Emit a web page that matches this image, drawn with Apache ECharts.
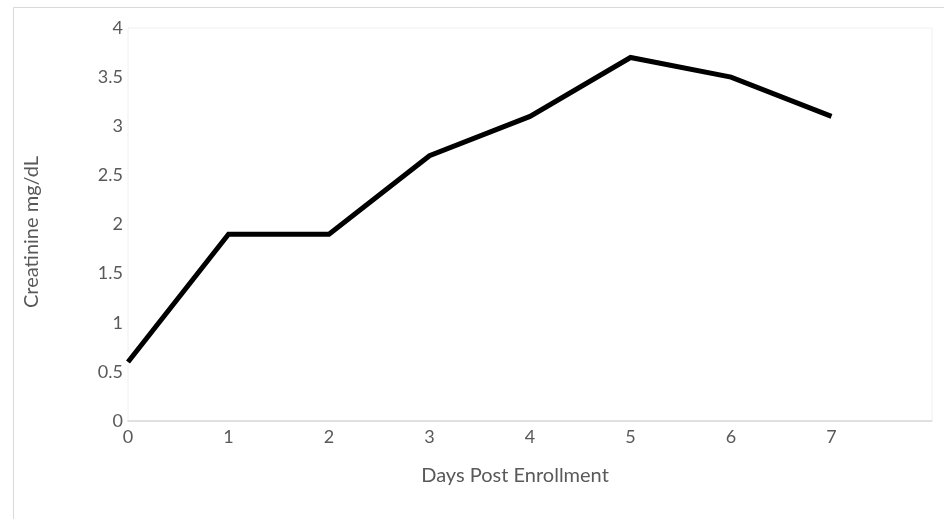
<!DOCTYPE html>
<html><head><meta charset="utf-8">
<script src="https://cdn.jsdelivr.net/npm/echarts@6/dist/echarts.min.js"></script>
<style>html,body{margin:0;padding:0;background:#fff}#c{width:944px;height:519px}</style>
</head><body><div id="c"></div>
<script>
const days = [0, 1, 2, 3, 4, 5, 6, 7];
const creatinine = [0.6, 1.9, 1.9, 2.7, 3.1, 3.7, 3.5, 3.1];
const xTitle = 'Days Post Enrollment';
const yTitle = 'Creatinine mg/dL';

const chart = echarts.init(document.getElementById('c'));
const font = 'Lato';
chart.setOption({
  animation: false,
  backgroundColor: '#fff',
  graphic: [{
    type: 'rect', silent: true,
    shape: { x: 13.5, y: 7.5, width: 1000, height: 1000 },
    style: { fill: 'none', stroke: '#d9d9d9', lineWidth: 1 }
  }],
  grid: { left: 128, right: 12, top: 28, bottom: 98, show: true, borderColor: '#f0f0f0', borderWidth: 1 },
  xAxis: {
    type: 'value', min: 0, max: 8, interval: 1,
    name: xTitle, nameLocation: 'middle', nameGap: 45,
    nameTextStyle: { fontFamily: font, fontSize: 20, color: '#595959', padding: [0, 30, 0, 0] },
    axisLine: { show: true, lineStyle: { color: '#d9d9d9', width: 1.5 } },
    axisTick: { show: false },
    splitLine: { show: false },
    axisLabel: { fontFamily: font, fontSize: 18, color: '#595959', margin: 7,
      formatter: v => (v === 8 ? '' : String(v)) }
  },
  yAxis: {
    type: 'value', min: 0, max: 4, interval: 0.5,
    name: yTitle, nameLocation: 'middle', nameGap: 86, nameRotate: 90,
    nameTextStyle: { fontFamily: font, fontSize: 20, color: '#595959', padding: [0, 15, 0, 0] },
    axisLine: { show: false }, axisTick: { show: false },
    splitLine: { show: false },
    axisLabel: { fontFamily: font, fontSize: 18, color: '#595959', margin: 5 }
  },
  series: [{
    type: 'line',
    data: days.map((d, i) => [d, creatinine[i]]),
    showSymbol: false, symbol: 'none',
    lineStyle: { color: '#000', width: 5, join: 'miter' }
  }]
});
</script></body></html>
